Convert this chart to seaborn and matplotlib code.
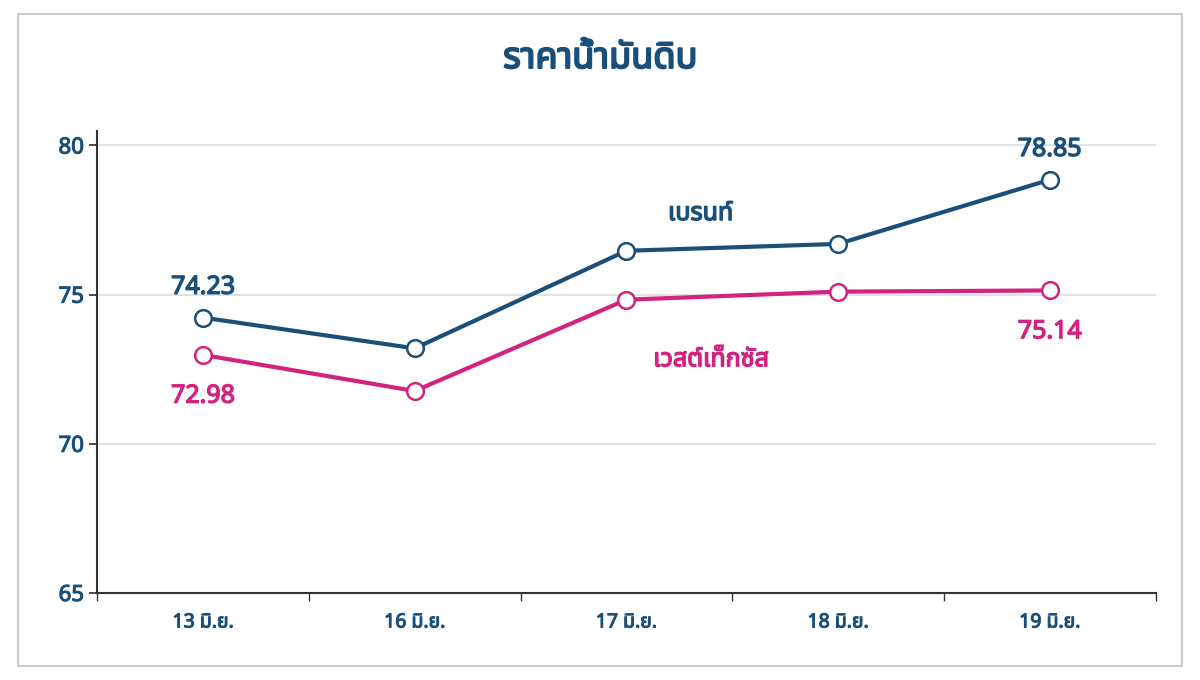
import matplotlib
matplotlib.use("Agg")
import matplotlib.pyplot as plt
import matplotlib.patheffects as pe
import seaborn as sns
import pandas as pd
from matplotlib.patches import Rectangle

dates = ["13 มิ.ย.", "16 มิ.ย.", "17 มิ.ย.", "18 มิ.ย.", "19 มิ.ย."]
brent = [74.23, 73.2, 76.47, 76.7, 78.85]
wti = [72.98, 71.77, 74.83, 75.1, 75.14]
yticks = [65, 70, 75, 80]

navy = "#1a4f7a"
pink = "#d1237f"

sns.set_theme(style="white")
plt.rcParams["font.family"] = ["Noto Sans Thai", "Tahoma", "Loma", "Garuda", "DejaVu Sans"]


def fake_bold(t, c, w=1.0):
    # the Thai font has no bold face here, so thicken with a stroke
    t.set_path_effects([pe.withStroke(linewidth=w, foreground=c)])


df = pd.DataFrame({"date": dates * 2, "price": brent + wti,
                   "series": ["brent"] * 5 + ["wti"] * 5})
df["x"] = list(range(5)) * 2

fig = plt.figure(figsize=(12, 6.8), dpi=100)
fig.patches.append(Rectangle((0.015, 0.02), 0.97, 0.96, transform=fig.transFigure,
                             fill=False, edgecolor="#cccccc", linewidth=1.5))
ax = fig.add_axes([0.081, 0.128, 0.882, 0.68])

sns.lineplot(data=df, x="x", y="price", hue="series", palette={"brent": navy, "wti": pink},
             linewidth=3, marker="o", markersize=12, markerfacecolor="white",
             markeredgewidth=1.8, legend=False, ax=ax)
for line, c in zip(ax.lines, [navy, pink]):
    line.set_markeredgecolor(c)

ax.set_xlim(-0.5, 4.5)
ax.set_ylim(65, 80.5)
ax.set_yticks(yticks)
ax.set_xticks(range(5))
ax.set_xticklabels(dates)
ax.set_xticks([i + 0.5 for i in range(-1, 5)], minor=True)
ax.tick_params(axis="x", which="major", length=0, labelsize=14, labelcolor=navy, pad=14)
ax.tick_params(axis="x", which="minor", length=6, color="#333333", direction="out", bottom=True)
ax.tick_params(axis="y", length=6, color="#333333", direction="out", left=True,
               labelsize=16, labelcolor=navy)
for t in ax.get_xticklabels() + ax.get_yticklabels():
    t.set_fontweight("bold")
    fake_bold(t, navy, 0.8)
ax.yaxis.grid(True, color="#dddddd", linewidth=1.2)
ax.set_xlabel("")
ax.set_ylabel("")
for s in ["top", "right"]:
    ax.spines[s].set_visible(False)
for s in ["left", "bottom"]:
    ax.spines[s].set_color("#333333")
    ax.spines[s].set_linewidth(1.5)

kw = dict(ha="center", fontsize=18, fontweight="bold")
labels = [
    ax.text(0, brent[0] + 0.8, f"{brent[0]:.2f}", color=navy, **kw),
    ax.text(4, brent[4] + 0.8, f"{brent[4]:.2f}", color=navy, **kw),
    ax.text(0, wti[0] - 1.6, f"{wti[0]:.2f}", color=pink, **kw),
    ax.text(4, wti[4] - 1.6, f"{wti[4]:.2f}", color=pink, **kw),
    ax.text(2.35, 77.5, "เบรนท์", color=navy, **kw),
    ax.text(2.4, 72.6, "เวสต์เท็กซัส", color=pink, **kw),
]
for t in labels:
    fake_bold(t, t.get_color(), 1.0)

title = fig.text(0.5, 0.9, "ราคาน้ำมันดิบ", ha="center", fontsize=26, fontweight="bold", color=navy)
fake_bold(title, navy, 1.4)
fig.savefig("out.png", dpi=100)
